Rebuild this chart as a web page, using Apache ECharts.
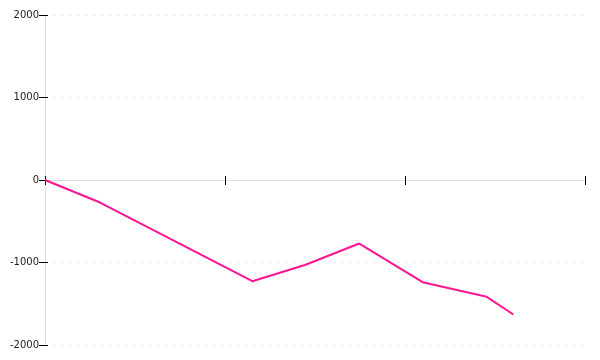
<!DOCTYPE html>
<html><head><meta charset="utf-8">
<script src="https://cdn.jsdelivr.net/npm/echarts@6/dist/echarts.min.js"></script>
<style>html,body{margin:0;padding:0;background:#fff}#c{width:600px;height:360px}</style>
</head><body><div id="c"></div>
<script>
const xValues = [0, 0.306, 1.152, 1.444, 1.746, 2.098, 2.454, 2.602];
const yValues = [0, -273, -1227, -1030, -770, -1239, -1416, -1630];
const yTicks = [-2000, -1000, 0, 1000, 2000];

const chart = echarts.init(document.getElementById('c'));
const tickStyle = {color: '#000', width: 1};
chart.setOption({
  animation: false,
  grid: {left: 45, right: 15, top: 15, bottom: 15},
  xAxis: [
    {type: 'value', min: 0, max: 3, interval: 1, position: 'bottom',
     axisLine: {onZero: true, onZeroAxisIndex: 0, lineStyle: {color: '#ddd', width: 1}},
     axisTick: {show: true, length: 5, lineStyle: tickStyle},
     axisLabel: {show: false}, splitLine: {show: false}},
    {type: 'value', min: 0, max: 3, interval: 1, position: 'top',
     axisLine: {show: false, onZero: true, onZeroAxisIndex: 0},
     axisTick: {show: true, length: 4, lineStyle: tickStyle},
     axisLabel: {show: false}, splitLine: {show: false}}
  ],
  yAxis: [
    {type: 'value', min: yTicks[0], max: yTicks[yTicks.length - 1], interval: 1000,
     position: 'left',
     axisLine: {show: true, onZero: false, lineStyle: {color: '#ddd', width: 1}},
     axisTick: {show: true, length: 6, lineStyle: tickStyle},
     axisLabel: {fontFamily: 'DejaVu Sans', fontSize: 10, color: '#222', margin: 6,
                 formatter: v => String(v)},
     splitLine: {show: true, lineStyle: {color: '#eee', type: [3, 5], width: 1}}},
    {type: 'value', min: yTicks[0], max: yTicks[yTicks.length - 1], interval: 1000,
     position: 'right',
     axisLine: {show: false, onZero: true, onZeroAxisIndex: 0},
     axisTick: {show: true, length: 3, lineStyle: tickStyle},
     axisLabel: {show: false}, splitLine: {show: false}}
  ],
  series: [{
    type: 'line', xAxisIndex: 0, yAxisIndex: 0,
    data: xValues.map((x, i) => [x, yValues[i]]),
    showSymbol: false, symbol: 'none',
    lineStyle: {color: '#ff1493', width: 2}
  }]
});
</script></body></html>
